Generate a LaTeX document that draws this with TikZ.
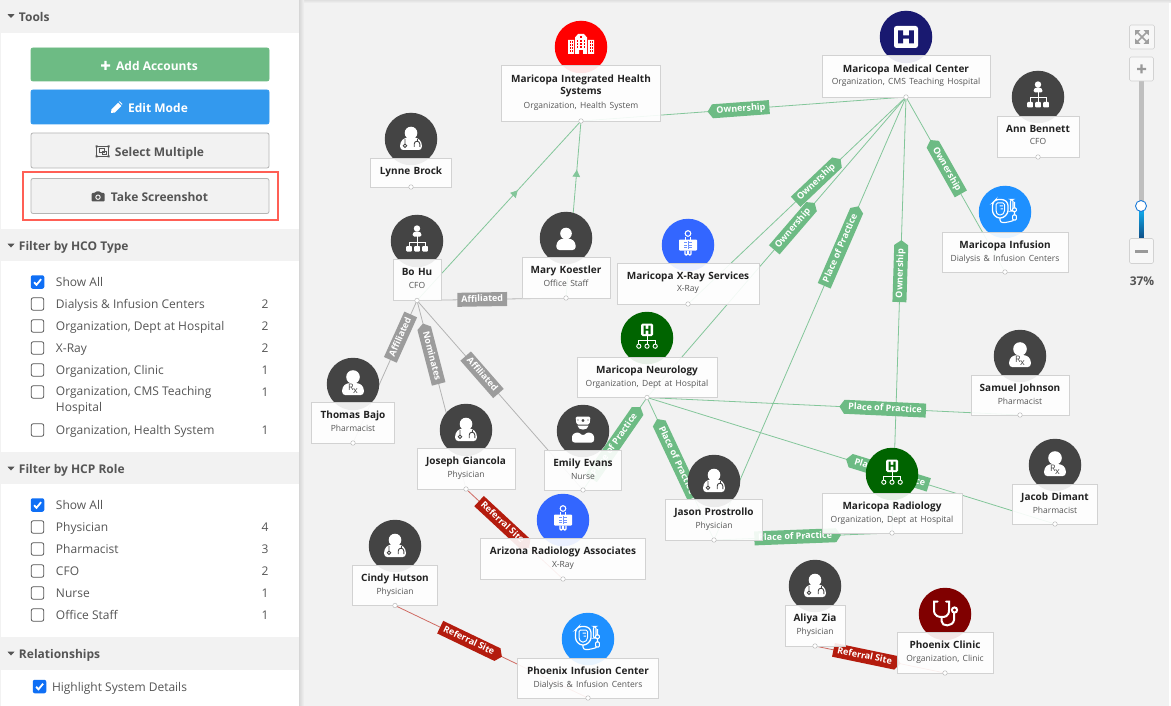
\documentclass[tikz,border=0pt]{standalone}
\usepackage{fontspec}
\setmainfont{Open Sans}
\usetikzlibrary{shapes.symbols,arrows.meta,decorations.markings}
\pgfdeclarelayer{background}
\pgfsetlayers{background,main}

\definecolor{canvas}{HTML}{F2F2F2}
\definecolor{staff}{HTML}{444444}
\definecolor{linegreen}{HTML}{83C69A}
\definecolor{taggreen}{HTML}{6DBB84}
\definecolor{linegray}{HTML}{B4B4B4}
\definecolor{taggray}{HTML}{9C9C9C}
\definecolor{linered}{HTML}{CF6A62}
\definecolor{tagred}{HTML}{B41C0E}
\definecolor{cardline}{HTML}{D2D2D2}
\definecolor{sidetext}{HTML}{555555}
\definecolor{titletext}{HTML}{222222}
\definecolor{boxblue}{HTML}{0F6FF5}
\definecolor{btnblue}{HTML}{3399EE}
\definecolor{hospred}{HTML}{FF0000}
\definecolor{marksalmon}{HTML}{FF5F55}
\definecolor{navy}{HTML}{191970}
\definecolor{deptgreen}{HTML}{006400}
\definecolor{xrayblue}{HTML}{3366FF}
\definecolor{ivblue}{HTML}{1E90FF}
\definecolor{maroon}{HTML}{800000}

\newcommand\subline[1]{\\{\fontsize{8.5}{12.5}\selectfont\mdseries\color{sidetext}#1}}

\tikzset{
  doctoricon/.pic={
    \fill[white] (0,-6) circle (6.3);
    \fill[white,rounded corners=3pt] (-10.8,11) -- (-10.8,3) -- (-6,-1.5) -- (6,-1.5) -- (10.8,3) -- (10.8,11) -- cycle;
    \draw[staff,line width=.9pt] (-6,6.7) circle (1.7) (-6,5) -- (-6,0);
    \draw[staff,line width=.9pt] (3.2,8) -- (3.2,5) arc (180:360:2.8) -- (8.8,8);
    \draw[staff,line width=.9pt] (6,2.2) -- (6,0);
  },
  rxicon/.pic={
    \fill[white] (0,-7) circle (6.8);
    \fill[white,rounded corners=3pt] (-10.8,11) -- (-10.8,3) -- (-6,-1) -- (6,-1) -- (10.8,3) -- (10.8,11) -- cycle;
    \node[text=staff,font=\fontsize{9}{9}\selectfont,inner sep=0pt] (-rx) at (0,5) {R\kern-.5pt\raisebox{-2.5pt}{x}};
  },
  personicon/.pic={
    \fill[white] (0,-4.5) circle (5.8);
    \fill[white,rounded corners=3pt] (-9.6,12) -- (-9.6,4.5) -- (-5,.5) -- (5,.5) -- (9.6,4.5) -- (9.6,12) -- cycle;
  },
  cfoicon/.pic={
    \fill[white] (0,-12.5) circle (3.2);
    \fill[white,rounded corners=1.5pt] (-4.5,-4.5) -- (-4.5,-7.5) -- (-2.5,-9.5) -- (2.5,-9.5) -- (4.5,-7.5) -- (4.5,-4.5) -- cycle;
    \draw[white,line width=1pt] (0,-5) -- (0,5) (-8,5) -- (-8,1) -- (8,1) -- (8,5);
    \foreach \boxx in {-8,0,8} \fill[white,rounded corners=.8pt] (\boxx-2.8,5) rectangle (\boxx+2.8,10.5);
  },
  nurseicon/.pic={
    \fill[white,rounded corners=1.5pt] (-7.5,-14.5) -- (7.5,-14.5) -- (6.5,-6.5) -- (-6.5,-6.5) -- cycle;
    \fill[staff] (-1.4,-11.2) rectangle (1.4,-10) (-.6,-12) rectangle (.6,-9.2);
    \fill[staff] (-5,-11) circle (.7) (5,-11) circle (.7);
    \fill[white] (-5.6,-5.5) .. controls (-5,0) and (5,0) .. (5.6,-5.5) -- cycle;
    \fill[white,rounded corners=2.5pt] (-11,11.5) -- (-11,3.5) -- (-5,.8) -- (0,5) -- (5,.8) -- (11,3.5) -- (11,11.5) -- cycle;
  },
  hospitalicon/.pic={
    \fill[white] (-13,-7) rectangle (-7,7) (7,-7) rectangle (13,7);
    \fill[white] (-6,-9.5) -- (-3,-13) -- (3,-13) -- (6,-9.5) -- (6,7) -- (2,7) -- (2,3) -- (-2,3) -- (-2,7) -- (-6,7) -- cycle;
    \fill[hospred] (-1,-11) rectangle (1,-8.5);
    \foreach \winy in {-5,-2,1,4}{
      \foreach \winx in {-11,-9,9,11} \fill[hospred] (\winx-.5,\winy-.6) rectangle (\winx+.5,\winy+.6);
    }
    \foreach \winy in {-6,-3,0}{
      \foreach \winx in {-3.5,0,3.5} \fill[hospred] (\winx-.6,\winy-.6) rectangle (\winx+.6,\winy+.6);
    }
  },
  hsquareicon/.pic={
    \fill[white,rounded corners=2.5pt] (-12,-11) rectangle (12,11);
    \fill[navy] (-7.8,-6.5) rectangle (-3,6.5) (3,-6.5) rectangle (7.8,6.5) (-3,-1.6) rectangle (3,1.6);
  },
  depticon/.pic={
    \fill[white,rounded corners=1.5pt] (-6,-14.5) rectangle (6,-2);
    \fill[deptgreen] (-3.5,-12.5) rectangle (-1.4,-4) (1.4,-12.5) rectangle (3.5,-4) (-1.5,-9.2) rectangle (1.5,-7.3);
    \draw[white,line width=.9pt] (0,-2) -- (0,6) (-8.2,6) -- (-8.2,2) -- (8.2,2) -- (8.2,6);
    \foreach \ringx in {-8.2,0,8.2} \draw[white,line width=.9pt] (\ringx,8.2) circle (2.1);
  },
  xrayicon/.pic={
    \draw[white,line width=1.1pt] (0,-11.5) circle (2.8);
    \draw[white,line width=1.1pt] (-2.4,-8) -- (-2.4,-5.5) (2.4,-8) -- (2.4,-5.5);
    \fill[white,rounded corners=.8pt] (-9,-5.5) rectangle (9,5.5);
    \draw[white,line width=1.1pt,rounded corners=1pt] (-.5,5.5) -- (-.5,10) -- (-3,10) -- (-3,5.5) (.5,5.5) -- (.5,10) -- (3,10) -- (3,5.5);
    \draw[xrayblue!70,line width=.5pt] (0,-4) -- (0,4) (-4,-2.5) -- (-1.2,-2.5) (-4,0) -- (-1.2,0) (-4,2.5) -- (-1.2,2.5) (1.2,-2.5) -- (4,-2.5) (1.2,0) -- (4,0) (1.2,2.5) -- (4,2.5);
  },
  ivicon/.pic={
    \draw[white,line width=1.3pt,rounded corners=2.5pt] (-9,-12.5) -- (-1,-12.5) -- (3,-9) -- (3,1) -- (-2,6) -- (-8,6) -- (-12.5,1) -- (-12.5,-9) -- cycle;
    \draw[white,line width=1pt,rounded corners=1.5pt] (-9,-9) -- (-.5,-9) -- (-.5,0) -- (-3,3) -- (-7,3) -- (-9,0) -- cycle;
    \fill[white] (-5.5,-6.5) rectangle (-2,-5.5) (-4.5,-3.5) rectangle (-2,-2.5);
    \draw[white,line width=1.1pt] (-5,6) -- (-5,8) .. controls (-5,11) and (-1,11) .. (3,10) .. controls (7,9) and (9.5,9) .. (9.5,6) -- (9.5,-10);
    \draw[white,line width=1.1pt,rounded corners=2pt] (5.5,-12.5) rectangle (8,-1);
    \draw[white,line width=1.1pt,rounded corners=1pt,fill=ivblue] (7.6,-4) rectangle (11.4,-.5) (7.6,3) rectangle (11.4,8);
  },
  clinicicon/.pic={
    \draw[white,line width=2pt,line cap=round] (-7.5,-12.5) -- (-11,-12.5) -- (-11,-4) .. controls (-11,3) and (-5,3) .. (-3,3) .. controls (-1,3) and (4,3) .. (4,-4) -- (4,-12.5) -- (1,-12.5);
    \draw[white,line width=2pt] (-3.5,3) -- (-3.5,7) .. controls (-3.5,13) and (8,13) .. (9,6) -- (9,-1);
    \draw[white,line width=2pt,fill=maroon] (9.5,-4) circle (2.6);
  },
  checkmark/.pic={
    \draw[white,line width=1.8pt] (-3.4,.3) -- (-1,2.8) -- (3.6,-2.8);
  },
  caret/.pic={
    \fill[sidetext] (-3.5,-1.8) -- (3.5,-1.8) -- (0,2) -- cycle;
  },
  cameraicon/.pic={
    \fill[sidetext,rounded corners=1pt] (-6.5,-3.5) -- (-3,-3.5) -- (-2,-5.2) -- (2,-5.2) -- (3,-3.5) -- (6.5,-3.5) -- (6.5,5) -- (-6.5,5) -- cycle;
    \draw[canvas,line width=1pt] (0,.7) circle (2.2);
  },
  selecticon/.pic={
    \draw[sidetext,line width=.8pt] (-6,-5) rectangle (6,5);
    \fill[sidetext] (-7,-6) rectangle (-5,-4) (5,-6) rectangle (7,-4) (-7,4) rectangle (-5,6) (5,4) rectangle (7,6);
    \draw[sidetext,line width=.8pt] (-3,-3) rectangle (2,1) (-.5,-.5) rectangle (3.5,3);
  },
  pencilicon/.pic={
    \fill[white] (-5.5,5.5) -- (-5,1.8) -- (1.6,-4.8) -- (4.9,-1.5) -- (-1.7,5) -- cycle;
    \fill[white] (2.4,-5.6) -- (3.2,-6.2) -- (5.8,-3.6) -- (5.6,-2.4) -- cycle;
  },
  plusicon/.pic={
    \fill[#1] (-4.5,-1.2) rectangle (4.5,1.2) (-1.2,-4.5) rectangle (1.2,4.5);
  },
  fiticon/.pic={
    \draw[#1,line width=1.6pt] (-5,-5) -- (5,5) (-5,5) -- (5,-5);
    \fill[#1] (-6.8,-6.8) -- (-1.6,-6.8) -- (-6.8,-1.6) -- cycle (6.8,-6.8) -- (1.6,-6.8) -- (6.8,-1.6) -- cycle (-6.8,6.8) -- (-1.6,6.8) -- (-6.8,1.6) -- cycle (6.8,6.8) -- (1.6,6.8) -- (6.8,1.6) -- cycle;
  },
}

\begin{document}
\begin{tikzpicture}
[
x=1pt,y=-1pt,
every node/.append style={outer sep=0pt},
avatar/.style={circle,fill=#1,minimum size=52.5pt,inner sep=0pt},
card/.style 2 args={rectangle,anchor=north,fill=white,fill opacity=.9,text opacity=1,draw=cardline,line width=.8pt,inner sep=0pt,
  align=center,text width=#1,text height=16.5pt,text depth=#2,text=titletext,font=\fontsize{10}{12.5}\selectfont\bfseries},
dot/.style={circle,fill=white,draw=cardline!75!gray,line width=.5pt,minimum size=4.5pt,inner sep=0pt},
reltag/.style={font=\fontsize{9}{10}\selectfont\bfseries,text=white,inner xsep=4pt,inner ysep=2.5pt,text height=7pt,text depth=2pt,sloped},
ptag/.style={shape=signal,signal to=#1,signal from=nowhere,signal pointer angle=110},
greenedge/.style={draw=linegreen,line width=.8pt},
grayedge/.style={draw=linegray,line width=.8pt},
rededge/.style={draw=linered,line width=.8pt},
greentag/.style={reltag,fill=taggreen},
graytag/.style={reltag,fill=taggray},
redtag/.style={reltag,fill=tagred},
amark/.style={decoration={markings,mark=at position {#1} with {\arrow{Triangle[length=7pt,width=7.5pt]}}},postaction={decorate}},
sidehead/.style={anchor=west,font=\fontsize{12}{14}\selectfont\bfseries,text=sidetext,inner sep=0pt},
sideitem/.style={anchor=west,font=\fontsize{12}{16}\selectfont,text=sidetext,inner sep=0pt,align=left},
sideone/.style={sideitem,text height=9pt,text depth=3pt},
sidecount/.style={anchor=center,font=\fontsize{12}{16}\selectfont,text=sidetext,inner sep=0pt},
cbox/.style={rectangle,rounded corners=2pt,draw=#1,fill=white,line width=.8pt,minimum size=12.5pt,inner sep=0pt},
cboxon/.style={rectangle,rounded corners=2pt,fill=boxblue,minimum size=13.5pt,inner sep=0pt},
btn/.style 2 args={rectangle,rounded corners=2pt,fill=#1,draw=#2,line width=.8pt,minimum width=238pt,inner sep=0pt},
btntext/.style={font=\fontsize{12}{14}\selectfont\bfseries,inner sep=0pt},
zoombtn/.style={rectangle,rounded corners=1.5pt,fill=canvas!60!white,draw=cardline,line width=.6pt,minimum width=24pt,minimum height=24pt,inner sep=0pt},
]
\useasboundingbox (0,0) rectangle (1171,706);

%Panels
\begin{pgfonlayer}{background}
\fill[canvas] (0,0) rectangle (1171,706);
\fill[top color=black!12,bottom color=canvas] (300,0) rectangle (1171,3);
\fill[white] (1169,3) rectangle (1171,706);
\fill[left color=black!16,right color=canvas] (299,0) rectangle (304,706);
\fill[white] (1,33) rectangle (299,229);
\fill[white] (1,261) rectangle (299,452);
\fill[white] (1,484) rectangle (299,637);
\fill[white] (1,670) rectangle (299,706);
\end{pgfonlayer}

%Place the accounts
\node[avatar=hospred] (miha) at (581,47) {};
\pic at (miha) {hospitalicon};
\node[card={159pt}{38.5pt},text height=17.5pt] (mih) at (581,65) {Maricopa Integrated Health\\Systems\\[1pt]{\fontsize{8.5}{12.5}\selectfont\mdseries\color{sidetext}Organization, Health System}};
\node[dot] (mihd) at (mih.south) {};

\node[avatar=navy] (mmca) at (906,37) {};
\pic at (mmca) {hsquareicon};
\node[card={168pt}{24.5pt},text height=17.5pt] (mmc) at (906,55) {Maricopa Medical Center\subline{Organization, CMS Teaching Hospital}};
\node[dot] (mmcd) at (mmc.south) {};

\node[avatar=staff] (lbra) at (411,139) {};
\pic at (lbra) {doctoricon};
\node[card={81pt}{12.5pt}] (lbr) at (411,158) {Lynne Brock};
\node[dot] (lbrd) at (lbr.south) {};

\node[avatar=staff] (anna) at (1038,97) {};
\pic at (anna) {cfoicon};
\node[card={82pt}{24.5pt}] (ann) at (1038,116) {Ann Bennett\subline{CFO}};
\node[dot] (annd) at (ann.south) {};

\node[avatar=ivblue] (infa) at (1005,212) {};
\pic at (infa) {ivicon};
\node[card={126pt}{23.5pt}] (inf) at (1005,232) {Maricopa Infusion\subline{Dialysis \& Infusion Centers}};
\node[dot] (infd) at (inf.south) {};

\node[avatar=staff] (bohua) at (417,241) {};
\pic at (bohua) {cfoicon};
\node[card={48pt}{24.5pt},text height=17pt] (bohu) at (417,259) {Bo Hu\subline{CFO}};
\node[dot] (bohud) at (bohu.south) {};

\node[avatar=staff] (marya) at (566,238) {};
\pic at (marya) {personicon};
\node[card={88pt}{24.5pt}] (mary) at (566,257) {Mary Koestler\subline{Office Staff}};
\node[dot] (maryd) at (mary.south) {};

\node[avatar=xrayblue] (xraya) at (688,245) {};
\pic at (xraya) {xrayicon};
\node[card={142pt}{24.5pt}] (xray) at (688,263) {Maricopa X-Ray Services\subline{X-Ray}};
\node[dot] (xrayd) at (xray.south) {};

\node[avatar=deptgreen] (neuroa) at (647,338) {};
\pic at (neuroa) {depticon};
\node[card={140pt}{24pt}] (neuro) at (647,357) {Maricopa Neurology\subline{Organization, Dept at Hospital}};
\node[dot] (neurod) at (neuro.south) {};

\node[avatar=staff] (samua) at (1020,356) {};
\pic at (samua) {rxicon};
\node[card={98pt}{23.5pt}] (samu) at (1020,375) {Samuel Johnson\subline{Pharmacist}};
\node[dot] (samud) at (samu.south) {};

\node[avatar=staff] (bajoa) at (353,384) {};
\pic at (bajoa) {rxicon};
\node[card={83pt}{24.5pt}] (bajo) at (353,402) {Thomas Bajo\subline{Pharmacist}};
\node[dot] (bajod) at (bajo.south) {};

\node[avatar=staff] (josea) at (466,430) {};
\pic at (josea) {doctoricon};
\node[card={98pt}{24.5pt}] (jose) at (466,448) {Joseph Giancola\subline{Physician}};
\node[dot] (josed) at (jose.south) {};

\node[avatar=staff] (emila) at (583,431) {};
\pic at (emila) {nurseicon};
\node[card={77pt}{23.5pt}] (emil) at (583,450) {Emily Evans\subline{Nurse}};
\node[dot] (emild) at (emil.south) {};

\node[avatar=staff] (jacoa) at (1055,465) {};
\pic at (jacoa) {rxicon};
\node[card={85pt}{23.5pt}] (jaco) at (1055,484) {Jacob Dimant\subline{Pharmacist}};
\node[dot] (jacod) at (jaco.south) {};

\node[avatar=deptgreen] (rada) at (892,474) {};
\pic at (rada) {depticon};
\node[card={140pt}{23.5pt}] (rad) at (892,493) {Maricopa Radiology\subline{Organization, Dept at Hospital}};
\node[dot] (radd) at (rad.south) {};

\node[avatar=staff] (jasoa) at (714,481) {};
\pic at (jasoa) {doctoricon};
\node[card={97pt}{24.5pt}] (jaso) at (714,499) {Jason Prostrollo\subline{Physician}};
\node[dot] (jasod) at (jaso.south) {};

\node[avatar=xrayblue] (ariza) at (563,520) {};
\pic at (ariza) {xrayicon};
\node[card={165pt}{24.5pt}] (ariz) at (563,538) {Arizona Radiology Associates\subline{X-Ray}};
\node[dot] (arizd) at (ariz.south) {};

\node[avatar=staff] (cinda) at (395,546) {};
\pic at (cinda) {doctoricon};
\node[card={85pt}{24pt}] (cind) at (395,565) {Cindy Hutson\subline{Physician}};
\node[dot] (cindd) at (cind.south) {};

\node[avatar=staff] (aliya) at (815,586) {};
\pic at (aliya) {doctoricon};
\node[card={60pt}{24.5pt}] (aliy) at (815,605) {Aliya Zia\subline{Physician}};
\node[dot] (aliyd) at (aliy.south) {};

\node[avatar=maroon] (clina) at (945,614) {};
\pic at (clina) {clinicicon};
\node[card={96pt}{24.5pt}] (clin) at (945,632) {Phoenix Clinic\subline{Organization, Clinic}};
\node[dot] (clind) at (clin.south) {};

\node[avatar=ivblue] (pinfa) at (588,639) {};
\pic at (pinfa) {ivicon};
\node[card={141pt}{23.5pt}] (pinf) at (588,658) {Phoenix Infusion Center\subline{Dialysis \& Infusion Centers}};
\node[dot] (pinfd) at (pinf.south) {};

%Draw the relationships
\begin{pgfonlayer}{background}
\draw[greenedge] (mmcd) -- node[greentag,ptag=west,pos=.508] (own1) {Ownership} (mihd);
\draw[greenedge] (mmcd) -- node[greentag,ptag=east,pos=.41] (own2) {Ownership} (xrayd);
\draw[greenedge] (mmcd) -- node[greentag,ptag=east,pos=.436] (own3) {Ownership} (neurod);
\draw[greenedge] (mmcd) -- node[greentag,ptag=west,pos=.41] (own4) {Ownership} (infd);
\draw[greenedge] (mmcd) -- node[greentag,ptag=east,pos=.34] (prac1) {Place of Practice} (jasod);
\draw[greenedge] (mmcd) -- node[greentag,ptag=east,pos=.404] (own5) {Ownership} (radd);
\draw[greenedge] (neurod) -- node[greentag,ptag=west,pos=.64] (prac2) {Place of Practice} (samud);
\draw[greenedge] (neurod) -- node[greentag,ptag=west,pos=.596] (prac3) {Place of Practice} (jacod);
\draw[greenedge] (jasod) -- node[greentag,ptag=east,pos=.455] (prac4) {Place of Practice} (radd);
\draw[greenedge] (neurod) -- node[greentag,ptag=east,pos=.51] (prac5) {Place of Practice} (emild);
\draw[greenedge] (neurod) -- node[greentag,ptag=west,pos=.44] (prac6) {Place of Practice} (jasod);
\draw[greenedge,amark=.616] (bohud) -- (mihd);
\draw[greenedge,amark=.73] (maryd) -- (mihd);
\draw[grayedge] (bohud) -- node[graytag,pos=.25] (aff1) {Affiliated} (bajod);
\draw[grayedge] (bohud) -- node[graytag,ptag=west,pos=.29] (nom1) {Nominates} (josed);
\draw[grayedge] (bohud) -- node[graytag,pos=.39] (aff2) {Affiliated} (emild);
\draw[grayedge] (bohud) -- node[graytag,pos=.436] (aff3) {Affiliated} (maryd);
\draw[rededge] (josed) -- node[redtag,ptag=east,pos=.37] (ref1) {Referral Site} (arizd);
\draw[rededge] (cindd) -- node[redtag,ptag=east,pos=.38] (ref2) {Referral Site} (pinfd);
\draw[rededge] (aliyd) -- node[redtag,ptag=east,pos=.377] (ref3) {Referral Site} (clind);
\end{pgfonlayer}

%Tools
\pic at (11,16) {caret};
\node[sidehead] (toolshead) at (19,17.5) {Tools};
\node[btn={taggreen}{taggreen},minimum height=33pt] (addbtn) at (150,64.5) {};
\node[btntext,text=white] (addtxt) at (157,66) {Add Accounts};
\pic at (105.5,65.5) {plusicon=white};
\node[btn={btnblue}{btnblue},minimum height=34pt] (editbtn) at (150,107) {};
\node[btntext,text=white] (edittxt) at (158,108) {Edit Mode};
\pic at (116.5,107.5) {pencilicon};
\node[btn={canvas}{linegray},minimum height=35pt] (selbtn) at (150,150.5) {};
\node[btntext,text=sidetext] (seltxt) at (159.5,153.5) {Select Multiple};
\pic at (102.5,151.5) {selecticon};
\node[btn={canvas}{linegray},minimum height=35pt] (shotbtn) at (150,196) {};
\node[btntext,text=sidetext] (shottxt) at (159.5,197) {Take Screenshot};
\pic at (98,196.5) {cameraicon};
\node[rectangle,draw=marksalmon,line width=2pt,minimum width=255pt,minimum height=48pt,inner sep=0pt] (shotmark) at (150,196.5) {};

%Filter by HCO Type
\pic at (11,245.5) {caret};
\node[sidehead] (hcohead) at (19,247) {Filter by HCO Type};
\node[cboxon] (hcoall) at (37.5,282) {};
\pic at (37.5,282) {checkmark};
\node[sideone] (hcoalltxt) at (56,283) {Show All};
\foreach \rowy/\rowtext/\rowcount in {304/Dialysis \& Infusion Centers/2,{326/Organization, Dept at Hospital/2},348/X-Ray/2,{370/Organization, Clinic/1},{430/Organization, Health System/1}}{
  \node[cbox=sidetext] (hcobox\rowy) at (37.5,\rowy) {};
  \node[sideone] (hcotxt\rowy) at (56,\rowy+1) {\rowtext};
  \node[sidecount] (hcocnt\rowy) at (265,\rowy+.5) {\rowcount};
}
\node[cbox=sidetext] (hcobox392) at (37.5,392) {};
\node[sideitem,anchor=north west] (hcotxt392) at (56,386) {Organization, CMS Teaching\\Hospital};
\node[sidecount] (hcocnt392) at (265,392.5) {1};

%Filter by HCP Role
\pic at (11,468.5) {caret};
\node[sidehead] (hcphead) at (19,470) {Filter by HCP Role};
\node[cboxon] (hcpall) at (37.5,505) {};
\pic at (37.5,505) {checkmark};
\node[sideone] (hcpalltxt) at (56,506) {Show All};
\foreach \rowy/\rowtext/\rowcount in {527/Physician/4,549/Pharmacist/3,571/CFO/2,593/Nurse/1,615/Office Staff/1}{
  \node[cbox=sidetext] (hcpbox\rowy) at (37.5,\rowy) {};
  \node[sideone] (hcptxt\rowy) at (56,\rowy+1) {\rowtext};
  \node[sidecount] (hcpcnt\rowy) at (265,\rowy+.5) {\rowcount};
}

%Relationships
\pic at (11,653.5) {caret};
\node[sidehead] (relhead) at (19,655) {Relationships};
\node[cboxon] (relbox) at (39.5,686.5) {};
\pic at (39.5,686.5) {checkmark};
\node[sideone] (reltxt) at (52,688) {Highlight System Details};

%Zoom control
\node[zoombtn,minimum width=25pt] (fitbtn) at (1142,37) {};
\pic at (1142,37) {fiticon=gray!75};
\fill[linegray!85] (1139,81) rectangle (1143.5,205);
\fill[top color=ivblue!60!cyan,bottom color=ivblue!50!black] (1139,205) rectangle (1143.5,240);
\node[zoombtn] (plusbtn) at (1141.5,69) {};
\pic at (1141.5,69) {plusicon=gray!80};
\node[zoombtn,minimum height=25pt] (minusbtn) at (1141.5,251) {};
\fill[gray!80] (1135,249.5) rectangle (1148,252.5);
\node[circle,fill=white,draw=ivblue!85!black,line width=.9pt,minimum size=11pt,inner sep=0pt] (knob) at (1141,206) {};
\node[font=\fontsize{12}{14}\selectfont\bfseries,text=sidetext,inner sep=0pt] (zoomval) at (1142,281) {37\%};
\end{tikzpicture}
\end{document}
